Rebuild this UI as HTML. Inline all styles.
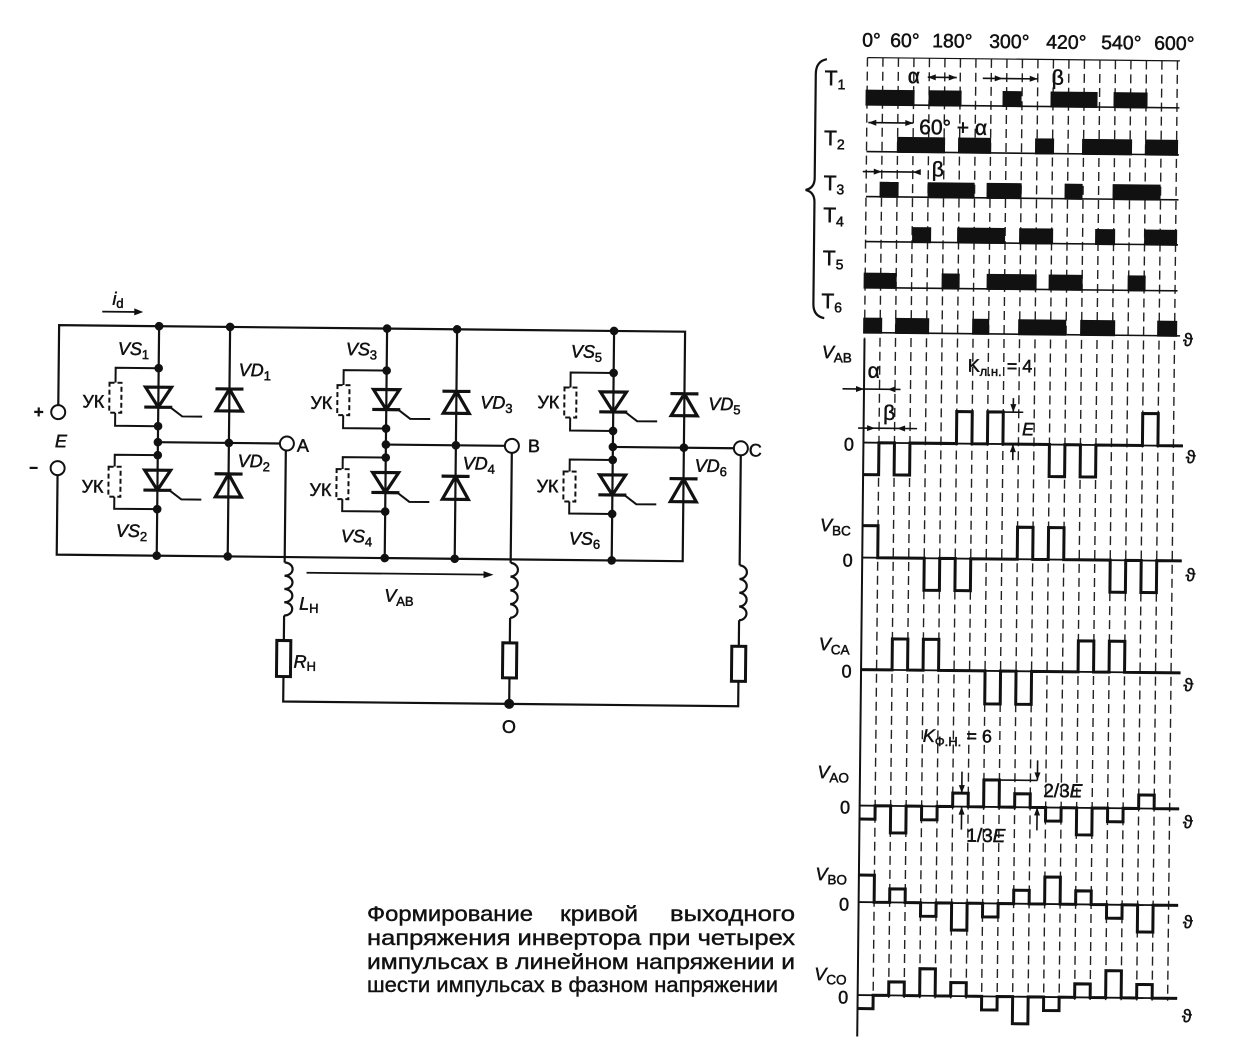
<!DOCTYPE html>
<html><head><meta charset="utf-8"><style>html,body{margin:0;padding:0;background:#fff}svg{display:block}</style></head>
<body>
<svg width="1234" height="1062" viewBox="0 0 1234 1062" xmlns="http://www.w3.org/2000/svg" font-family="'Liberation Sans','DejaVu Sans',sans-serif">
<rect width="1234" height="1062" fill="#fff"/>
<g transform="rotate(0.6 617 531)">
<!-- ================= CIRCUIT ================= -->
<g stroke="#111" fill="none" stroke-width="2.2">
<path d="M57 411 V331 H683 V560.5 H57 V481"/>
<path d="M157 331 V560.5 M228 331 V560.5 M385 331 V560.5 M455 331 V560.5 M612 331 V560.5"/>
<path d="M157 447 H279 M385 447 H504 M612 447 H733"/>
<path stroke-width="2" d="M157 373 H114 V388 M114 418 V431 H157 M157 460 H114 V472 M114 502 V514 H157
M385 373 H342 V388 M342 418 V431 H385 M385 460 H342 V472 M342 502 V514 H385
M612 373 H569 V388 M569 418 V431 H612 M612 460 H569 V472 M569 502 V514 H612"/>
<g stroke-width="2" stroke-dasharray="5 3" fill="#fff">
<rect x="108" y="388" width="12" height="30"/><rect x="108" y="472" width="12" height="30"/>
<rect x="336" y="388" width="12" height="30"/><rect x="336" y="472" width="12" height="30"/>
<rect x="563" y="388" width="12" height="30"/><rect x="563" y="472" width="12" height="30"/>
</g>
<path stroke-width="3.2" d="M144 392 H170 L157 412 Z M143 412 H171 M144 475 H170 L157 495 Z M143 495 H171
M372 392 H398 L385 412 Z M371 412 H399 M372 475 H398 L385 495 Z M371 495 H399
M599 392 H625 L612 412 Z M598 412 H626 M599 475 H625 L612 495 Z M598 495 H626"/>
<path stroke-width="2" d="M169 412 L181 421 H201 M169 495 L181 504 H201 M397 412 L409 421 H429 M397 495 L409 504 H429 M624 412 L636 421 H656 M624 495 L636 504 H656"/>
<path stroke-width="3.2" d="M214 393 H242 M215 415 H241 L228 393 Z M214 478 H242 M215 501 H241 L228 478 Z
M441 393 H469 M442 415 H468 L455 393 Z M441 478 H469 M442 501 H468 L455 478 Z
M669 393 H697 M670 415 H696 L683 393 Z M669 478 H697 M670 501 H696 L683 478 Z"/>
<path d="M285 454 V566 M285 619 V644 M285 680 V705 H740 V680 M740 645 V619 M740 564 V454 M511 454 V564 M511 619 V644 M511 679 V705"/>
<path d="M285 566 a8 6.6 0 0 1 0 13.25 a8 6.6 0 0 1 0 13.25 a8 6.6 0 0 1 0 13.25 a8 6.6 0 0 1 0 13.25
M511 564 a8 6.9 0 0 1 0 13.75 a8 6.9 0 0 1 0 13.75 a8 6.9 0 0 1 0 13.75 a8 6.9 0 0 1 0 13.75
M740 564 a8 6.9 0 0 1 0 13.75 a8 6.9 0 0 1 0 13.75 a8 6.9 0 0 1 0 13.75 a8 6.9 0 0 1 0 13.75"/>
<g stroke-width="3" fill="#fff"><rect x="278" y="644" width="14" height="36"/><rect x="504" y="644" width="14" height="35"/><rect x="733" y="645" width="14" height="35"/></g>
<g fill="#fff" stroke-width="2"><circle cx="57" cy="418" r="7"/><circle cx="57" cy="474" r="7"/><circle cx="286" cy="447" r="7"/><circle cx="511" cy="447" r="7"/><circle cx="740" cy="447" r="7"/></g>
<path stroke-width="2.2" d="M33 418 H42 M37.5 413.5 V422.5 M29 474 H37"/>
<path stroke-width="1.8" d="M100 317 H138 M307 576 H486"/>
</g>
<g fill="#111">
<polygon points="141,317 132,313.5 132,320.5"/>
<polygon points="494,576 484,572.5 484,579.5"/>
<circle cx="157" cy="331" r="4.3"/><circle cx="228" cy="331" r="4.3"/><circle cx="385" cy="331" r="4.3"/><circle cx="455" cy="331" r="4.3"/><circle cx="612" cy="331" r="4.3"/>
<circle cx="157" cy="560.5" r="4.3"/><circle cx="228" cy="560.5" r="4.3"/><circle cx="385" cy="560.5" r="4.3"/><circle cx="455" cy="560.5" r="4.3"/><circle cx="612" cy="560.5" r="4.3"/>
<circle cx="157" cy="373" r="4.3"/><circle cx="157" cy="431" r="4.3"/><circle cx="157" cy="447" r="4.3"/><circle cx="157" cy="460" r="4.3"/><circle cx="157" cy="514" r="4.3"/>
<circle cx="385" cy="373" r="4.3"/><circle cx="385" cy="431" r="4.3"/><circle cx="385" cy="447" r="4.3"/><circle cx="385" cy="460" r="4.3"/><circle cx="385" cy="514" r="4.3"/>
<circle cx="612" cy="373" r="4.3"/><circle cx="612" cy="431" r="4.3"/><circle cx="612" cy="447" r="4.3"/><circle cx="612" cy="460" r="4.3"/><circle cx="612" cy="514" r="4.3"/>
<circle cx="228" cy="447" r="4.3"/><circle cx="455" cy="447" r="4.3"/><circle cx="683" cy="447" r="4.3"/><circle cx="511" cy="705" r="5"/>
</g>
<g fill="#111" stroke="#111" stroke-width="0.5" font-size="18">
<text x="110" y="310" font-style="italic">i<tspan font-size="13" font-style="normal" dy="3">d</tspan></text>
<text x="54" y="453" font-style="italic">E</text>
<text x="116" y="360"><tspan font-style="italic">VS</tspan><tspan font-size="13" dy="4">1</tspan></text>
<text x="237" y="380"><tspan font-style="italic">VD</tspan><tspan font-size="13" dy="4">1</tspan></text>
<text x="237" y="471"><tspan font-style="italic">VD</tspan><tspan font-size="13" dy="4">2</tspan></text>
<text x="116" y="542"><tspan font-style="italic">VS</tspan><tspan font-size="13" dy="4">2</tspan></text>
<text x="344" y="358"><tspan font-style="italic">VS</tspan><tspan font-size="13" dy="4">3</tspan></text>
<text x="479" y="410"><tspan font-style="italic">VD</tspan><tspan font-size="13" dy="4">3</tspan></text>
<text x="462" y="471"><tspan font-style="italic">VD</tspan><tspan font-size="13" dy="4">4</tspan></text>
<text x="341" y="545"><tspan font-style="italic">VS</tspan><tspan font-size="13" dy="4">4</tspan></text>
<text x="569" y="358"><tspan font-style="italic">VS</tspan><tspan font-size="13" dy="4">5</tspan></text>
<text x="707" y="409"><tspan font-style="italic">VD</tspan><tspan font-size="13" dy="4">5</tspan></text>
<text x="694" y="471"><tspan font-style="italic">VD</tspan><tspan font-size="13" dy="4">6</tspan></text>
<text x="569" y="545"><tspan font-style="italic">VS</tspan><tspan font-size="13" dy="4">6</tspan></text>
<text x="296" y="455">A</text><text x="527" y="453">B</text><text x="748" y="455">C</text>
<g text-anchor="end"><text x="103" y="413">УК</text><text x="103" y="498">УК</text><text x="331" y="412">УК</text><text x="331" y="499">УК</text><text x="558" y="409">УК</text><text x="558" y="493">УК</text></g>
<text x="300" y="613"><tspan font-style="italic">L</tspan><tspan font-size="13" dy="3">Н</tspan></text>
<text x="295" y="671"><tspan font-style="italic">R</tspan><tspan font-size="13" dy="3">Н</tspan></text>
<text x="385" y="604"><tspan font-style="italic">V</tspan><tspan font-size="13" dy="4">AB</tspan></text>
<text x="504" y="734">O</text>
</g>

<!-- ================= TIMING DIAGRAM ================= -->
<g stroke="#222" fill="none" stroke-width="1.4" stroke-dasharray="9 5">
<path d="M862.5 55 V336 M878 55 V995 M893.5 55 V995 M909 55 V995 M924.5 55 V995 M940 55 V995 M955.5 55 V995 M971 55 V995 M986.5 55 V995 M1002 55 V995 M1017.5 55 V995 M1033 55 V995 M1048.5 55 V995 M1064 55 V995 M1079.5 55 V995 M1095 55 V995 M1110.5 55 V995 M1126 55 V995 M1141.5 55 V995 M1157 55 V995 M1172.5 55 V995"/>
</g>
<g stroke="#111" fill="none">
<path stroke-width="2" d="M862.5 336 V1034"/>
<path stroke-width="1.2" d="M862.5 55 H1175"/>
<path stroke-width="1.6" d="M862.5 102 H1175 M862.5 149 H1175 M862.5 194 H1175 M862.5 239 H1175 M862.5 285 H1175 M862.5 330 H1178"/>
<path stroke-width="2.2" d="M822 57 Q811 59 811 72 L811 176 Q811 186 802 188 Q811 190 811 200 L811 302 Q811 314 822 316"/>
<path stroke-width="1.8" d="M862.5 440 H1182 M862.5 555 H1182 M862.5 667 H1182 M862.5 803 H1182 M862.5 899.5 H1182 M862.5 992.5 H1182"/>
<g stroke-width="3">
<path d="M862.5,472 H878 V440 H893.5 V472 H909 V440 H955.5 V408 H971 V440 H986.5 V408 H1002 V440 H1048.5 V472 H1064 V440 H1079.5 V472 H1095 V440 H1141.5 V408 H1157 V440 H1182"/>
<path d="M862.5,523 H878 V555 H924.5 V587 H940 V555 H955.5 V587 H971 V555 H1017.5 V523 H1033 V555 H1048.5 V523 H1064 V555 H1110.5 V587 H1126 V555 H1141.5 V587 H1157 V555 H1182"/>
<path d="M862.5,667 H893.5 V636 H909 V667 H924.5 V636 H940 V667 H986.5 V700 H1002 V667 H1017.5 V700 H1033 V667 H1079.5 V636 H1095 V667 H1110.5 V636 H1126 V667 H1182"/>
<path d="M862.5,816.5 H878 V803 H893.5 V830 H909 V803 H924.5 V816.5 H940 V803 H955.5 V789.5 H971 V803 H986.5 V776 H1002 V803 H1017.5 V789.5 H1033 V803 H1048.5 V816.5 H1064 V803 H1079.5 V830 H1095 V803 H1110.5 V816.5 H1126 V803 H1141.5 V789.5 H1157 V803 H1182"/>
<path d="M862.5,872.5 H878 V899.5 H893.5 V886 H909 V899.5 H924.5 V913 H940 V899.5 H955.5 V926.5 H971 V899.5 H986.5 V913 H1002 V899.5 H1017.5 V886 H1033 V899.5 H1048.5 V872.5 H1064 V899.5 H1079.5 V886 H1095 V899.5 H1110.5 V913 H1126 V899.5 H1141.5 V926.5 H1157 V899.5 H1182"/>
<path d="M862.5,1006 H878 V992.5 H893.5 V979 H909 V992.5 H924.5 V965.5 H940 V992.5 H955.5 V979 H971 V992.5 H986.5 V1006 H1002 V992.5 H1017.5 V1019.5 H1033 V992.5 H1048.5 V1006 H1064 V992.5 H1079.5 V979 H1095 V992.5 H1110.5 V965.5 H1126 V992.5 H1141.5 V979 H1157 V992.5 H1182"/>
</g>
<path stroke-width="1.6" d="M923 74 H952 M978 74.5 H1033 M864 120 H909 M859 169 H911 M841 386.5 H899 M857 425.5 H916 M1012 394 V408 M1012 440 V456 M1002 408 H1022 M964.5 768 V789.5 M964.5 803 V826 M1040 756 V776 M1040 803 V826 M1002 776 H1040"/>
</g>
<g fill="#111">
<rect x="861" y="87" width="49" height="16"/><rect x="924" y="87" width="33" height="16"/><rect x="998" y="87" width="19" height="16"/><rect x="1046" y="87" width="47" height="16"/><rect x="1109" y="87" width="34" height="16"/>
<rect x="893" y="134" width="48" height="16"/><rect x="954" y="134" width="33" height="16"/><rect x="1031" y="134" width="19" height="16"/><rect x="1078" y="134" width="50" height="16"/><rect x="1141" y="134" width="33" height="16"/>
<rect x="876" y="179" width="19" height="16"/><rect x="924" y="179" width="47" height="16"/><rect x="983" y="179" width="35" height="16"/><rect x="1061" y="179" width="18" height="16"/><rect x="1109" y="179" width="48" height="16"/>
<rect x="909" y="224" width="19" height="16"/><rect x="954" y="224" width="48" height="16"/><rect x="1016" y="224" width="34" height="16"/><rect x="1092" y="224" width="20" height="16"/><rect x="1141" y="224" width="33" height="16"/>
<rect x="861" y="270" width="33" height="16"/><rect x="939" y="270" width="18" height="16"/><rect x="984" y="270" width="50" height="16"/><rect x="1046" y="270" width="34" height="16"/><rect x="1125" y="270" width="18" height="16"/>
<rect x="861" y="315" width="19" height="16"/><rect x="893" y="315" width="34" height="16"/><rect x="970" y="315" width="17" height="16"/><rect x="1016" y="315" width="48" height="16"/><rect x="1078" y="315" width="35" height="16"/><rect x="1155" y="315" width="20" height="16"/>
<polygon points="923,74 931,71 931,77"/><polygon points="952,74 944,71 944,77"/>
<polygon points="998,74.5 990,71.5 990,77.5"/><polygon points="1033,74.5 1025,71.5 1025,77.5"/>
<polygon points="864,120 872,117 872,123"/><polygon points="909,120 901,117 901,123"/>
<polygon points="878,169 870,166 870,172"/><polygon points="909,169 917,166 917,172"/>
<polygon points="862.5,386.5 854.5,383.5 854.5,389.5"/><polygon points="886,386.5 894,383.5 894,389.5"/>
<polygon points="874,425.5 866,422.5 866,428.5"/><polygon points="896,425.5 904,422.5 904,428.5"/>
<polygon points="1012,408 1009,400 1015,400"/><polygon points="1012,440 1009,448 1015,448"/>
<polygon points="964.5,789.5 961.5,781.5 967.5,781.5"/><polygon points="964.5,803 961.5,811 967.5,811"/>
<polygon points="1040,776 1037,768 1043,768"/><polygon points="1040,803 1037,811 1043,811"/>
</g>
<g fill="#111" stroke="#111" stroke-width="0.5" font-size="18">
<g font-size="19.5"><text x="857" y="44">0°</text><text x="885" y="44">60°</text><text x="927" y="44">180°</text><text x="984" y="44">300°</text><text x="1041" y="44">420°</text><text x="1096" y="44">540°</text><text x="1149" y="44">600°</text></g>
<g font-size="21">
<text x="820" y="83">T<tspan font-size="14" dy="4">1</tspan></text>
<text x="820" y="143">T<tspan font-size="14" dy="4">2</tspan></text>
<text x="820" y="188">T<tspan font-size="14" dy="4">3</tspan></text>
<text x="820" y="220">T<tspan font-size="14" dy="4">4</tspan></text>
<text x="820" y="263">T<tspan font-size="14" dy="4">5</tspan></text>
<text x="819" y="306">T<tspan font-size="14" dy="4">6</tspan></text>
</g>
<g font-size="21">
<text x="903" y="80">α</text><text x="1047" y="80">β</text><text x="915" y="131">60° + α</text><text x="928" y="173">β</text>
<text x="866" y="375">α</text><text x="882" y="417">β</text>
</g>
<text x="820" y="356"><tspan font-style="italic">V</tspan><tspan font-size="13.5" dy="4">AB</tspan></text>
<text x="820" y="529"><tspan font-style="italic">V</tspan><tspan font-size="13.5" dy="4">BC</tspan></text>
<text x="820" y="648"><tspan font-style="italic">V</tspan><tspan font-size="13.5" dy="4">CA</tspan></text>
<text x="820" y="776"><tspan font-style="italic">V</tspan><tspan font-size="13.5" dy="4">AO</tspan></text>
<text x="819" y="878"><tspan font-style="italic">V</tspan><tspan font-size="13.5" dy="4">BO</tspan></text>
<text x="819" y="978"><tspan font-style="italic">V</tspan><tspan font-size="13.5" dy="4">CO</tspan></text>
<text x="843" y="448">0</text><text x="843" y="564">0</text><text x="843" y="675">0</text><text x="843" y="811">0</text><text x="843" y="908">0</text><text x="843" y="1001">0</text>
<text x="1181" y="340">ϑ</text><text x="1185" y="457">ϑ</text><text x="1186" y="575">ϑ</text><text x="1185" y="685">ϑ</text><text x="1186" y="822">ϑ</text><text x="1187" y="922">ϑ</text><text x="1187" y="1016">ϑ</text>
<text x="966" y="368">K<tspan font-size="13" dy="4">л.н.</tspan><tspan dy="-4"> = 4</tspan></text>
<text x="1021" y="431" font-style="italic">E</text>
<text x="925" y="738.5"><tspan font-style="italic">K</tspan><tspan font-size="13" dy="4">Ф.Н.</tspan><tspan dy="-4"> = 6</tspan></text>
<text x="969.5" y="838" font-size="19">1/3<tspan font-style="italic">E</tspan></text>
<text x="1046" y="792.5" font-size="19">2/3<tspan font-style="italic">E</tspan></text>
</g>
</g>

<!-- ================= CAPTION ================= -->
<g fill="#111" stroke="#111" stroke-width="0.4" font-size="21">
<text x="367" y="921" textLength="166" lengthAdjust="spacingAndGlyphs">Формирование</text>
<text x="560" y="921" textLength="78" lengthAdjust="spacingAndGlyphs">кривой</text>
<text x="670" y="921" textLength="125" lengthAdjust="spacingAndGlyphs">выходного</text>
<text x="367" y="945" textLength="428" lengthAdjust="spacingAndGlyphs">напряжения инвертора при четырех</text>
<text x="367" y="969" textLength="428" lengthAdjust="spacingAndGlyphs">импульсах в линейном напряжении и</text>
<text x="367" y="992" textLength="411" lengthAdjust="spacingAndGlyphs">шести импульсах в фазном напряжении</text>
</g>
</svg>
</body></html>
